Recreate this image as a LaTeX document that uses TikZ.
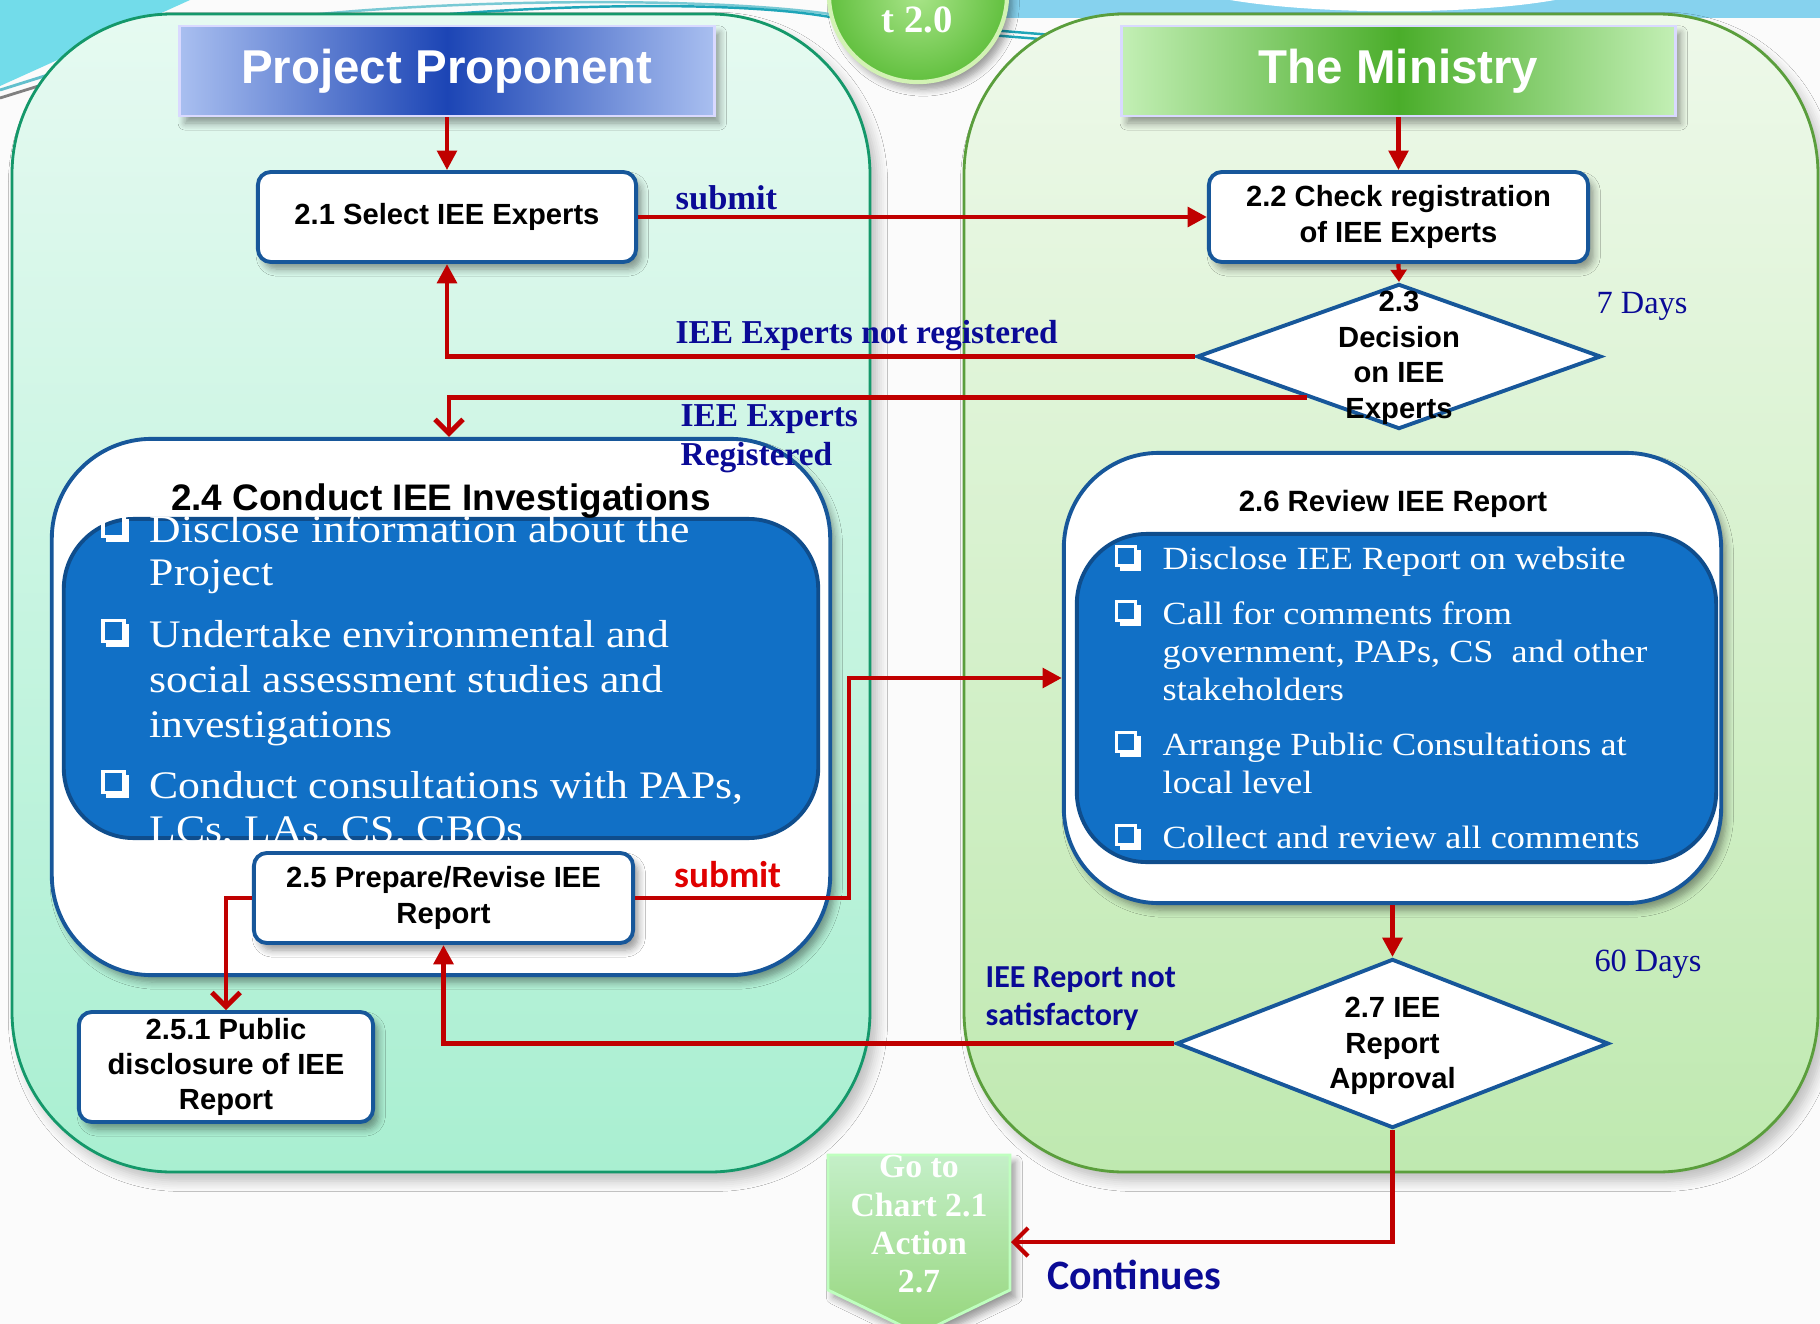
\documentclass[tikz,border=0pt]{standalone}
\usepackage{fontspec}
\usetikzlibrary{arrows.meta,shapes.geometric,shadows.blur,calc}
\setmainfont{Liberation Serif}
\newfontfamily\hsans{Liberation Sans}
\newfontfamily\hserif{Liberation Serif}
\newfontfamily\hserifw[FakeStretch=1.12]{Liberation Serif}
\newfontfamily\hcarl{Carlito}
\newcommand\fsz[2]{\fontsize{#1pt}{#2pt}\selectfont}
\definecolor{bgcol}{HTML}{FBFBFB}
\definecolor{arrred}{HTML}{C00000}
\definecolor{boxblue}{HTML}{17579A}
\definecolor{innerblue}{HTML}{1170C6}
\definecolor{innerline}{HTML}{0F4D8C}
\definecolor{navy}{HTML}{0A0A96}
\definecolor{redtxt}{HTML}{E00000}
\definecolor{lpanelT}{HTML}{E6FAF1}
\definecolor{lpanelB}{HTML}{A9EFD1}
\definecolor{lpanelD}{HTML}{14986A}
\definecolor{rpanelT}{HTML}{EEF9EA}
\definecolor{rpanelB}{HTML}{BFE9B0}
\definecolor{rpanelD}{HTML}{5A9E3C}
\definecolor{hbL}{HTML}{A9BFF0}
\definecolor{hbM}{HTML}{1C45B5}
\definecolor{hgL}{HTML}{C3EFB5}
\definecolor{hgM}{HTML}{4AAD2A}
\definecolor{cyanbg}{HTML}{72DCEA}
\definecolor{tealline}{HTML}{1FA5B8}
\definecolor{lightblue}{HTML}{86D2EE}
\definecolor{circIn}{HTML}{A8E488}
\definecolor{circOut}{HTML}{62C03F}
\definecolor{circEdge}{HTML}{D2F2B4}
\definecolor{chevT}{HTML}{C4EFC8}
\definecolor{chevB}{HTML}{96D67C}
\newcommand\bsq[3]{%
  \draw[white, line width=0.9pt] ({#1-#3/2},{#2-#3/2}) rectangle ({#1+#3/2},{#2+#3/2});
  \draw[white, line width=1.5pt] ({#1-#3/2+3},{#2+#3/2+2.5}) -- ({#1+#3/2+2.5},{#2+#3/2+2.5}) -- ({#1+#3/2+2.5},{#2-#3/2+3});
}
\tikzset{
  sh/.style={blur shadow={shadow xshift=1.5pt,shadow yshift=-2pt,shadow opacity=40,shadow blur radius=2pt,shadow blur steps=6}},
  panel/.style={line width=0.8pt, rounded corners=1.6cm, blur shadow={shadow xshift=2pt,shadow yshift=-2.5pt,shadow opacity=25,shadow blur radius=3pt,shadow blur steps=6}},
  hdr/.style={draw=white!85!blue, line width=0.8pt, text=white, font=\hsans\bfseries\fsz{13.5}{15}, inner sep=0pt, sh},
  wbox/.style={draw=boxblue, line width=1.1pt, fill=white, rounded corners=0.13cm, inner sep=0pt, align=center, font=\hsans\bfseries\fsz{8.3}{10}, sh},
  bigbox/.style={draw=boxblue, line width=1.1pt, fill=white, inner sep=0pt, sh},
  innerbox/.style={draw=innerline, line width=1.1pt, fill=innerblue, inner sep=0pt},
  dia/.style={diamond, draw=boxblue, line width=1.1pt, fill=white, inner sep=0pt},
  diatxt/.style={font=\hsans\bfseries\fsz{8.3}{10.1}, align=center, inner sep=0pt},
  bullA/.style={font=\hserifw\fsz{11.1}{12}, text=white, inner sep=0pt, anchor=base west},
  bullB/.style={font=\hserifw\fsz{9.2}{10}, text=white, inner sep=0pt, anchor=base west},
  lbl/.style={font=\hserif\bfseries\fsz{9.5}{10}, text=navy, inner sep=0pt, anchor=base west},
  days/.style={font=\hserif\fsz{9.2}{10}, text=navy, inner sep=0pt, anchor=base},
  chevtxt/.style={font=\hserif\bfseries\fsz{9.6}{11}, text=white, inner sep=0pt, anchor=base},
  arr/.style={draw=arrred, line width=1.4pt, -{Triangle[length=5.5pt,width=5.5pt]}},
  sarr/.style={draw=arrred, line width=1.2pt, -{Triangle[length=3.5pt,width=4.5pt]}},
  varr/.style={draw=arrred, line width=1.4pt, -{Straight Barb[length=4pt,width=8pt]}},
}
\begin{document}
\begin{tikzpicture}[x=0.01cm,y=-0.01cm]
\useasboundingbox (0,0) rectangle (1820,1324);
\clip (0,0) rectangle (1820,1324);
\fill[bgcol] (0,0) rectangle (1820,1324);
% decorations
\fill[cyanbg] (0,0) -- (190,0) -- (0,86) -- cycle;
\draw[tealline!70, line width=0.8pt] (0,90) -- (70,68);
\draw[gray, line width=0.8pt] (0,98) -- (45,84);
\fill[lightblue] (1000,0) rectangle (1820,18);
\fill[white] (1230,0) .. controls (1320,15) and (1470,15) .. (1555,0) -- cycle;
\draw[tealline!60, line width=0.7pt] (300,16) .. controls (450,0) and (700,-4) .. (830,14);
\draw[tealline, line width=0.7pt] (450,14) .. controls (600,3) and (750,3) .. (830,17);
\draw[tealline, line width=0.7pt] (990,30) -- (1090,38);
\draw[tealline, line width=0.7pt] (990,35) -- (1090,43);
% panels
\path[panel, draw=lpanelD, top color=lpanelT, bottom color=lpanelB] (12,14) rectangle (870,1172);
\path[panel, draw=rpanelD, top color=rpanelT, bottom color=rpanelB] (964,14) rectangle (1818,1172);
% top circle
\path[draw=circEdge, line width=1.2pt, inner color=circIn, outer color=circOut, sh] (918,-5) ellipse [x radius=0.89cm, y radius=0.87cm];
\node[font=\hserif\bfseries\fsz{11}{12}, text=white, anchor=base, inner sep=0pt] (chart) at (917,32) {t 2.0};
% headers
\node[hdr, minimum width=5.34cm, minimum height=0.9cm, left color=hbL, right color=hbL, middle color=hbM] (pp) at (447,71) {Project Proponent};
\node[hdr, minimum width=5.53cm, minimum height=0.9cm, left color=hgL, right color=hgL, middle color=hgM] (tm) at (1398.5,71) {The Ministry};
% boxes
\node[wbox, minimum width=3.78cm, minimum height=0.9cm] (b21) at (447,217) {2.1 Select IEE Experts};
\node[wbox, minimum width=3.79cm, minimum height=0.9cm] (b22) at (1398.5,217) {2.2 Check registration\\of IEE Experts};
\node[dia, minimum width=4.04cm, minimum height=1.45cm] (d23) at (1399,356.5) {};
\node[diatxt] (d23t) at (1399,358) {2.3\\Decision\\on IEE\\Experts};
\node[bigbox, minimum width=7.78cm, minimum height=5.36cm, rounded corners=1cm] (b24) at (441,707) {};
\node[innerbox, minimum width=7.54cm, minimum height=3.19cm, rounded corners=0.7cm] (b24i) at (441,678.5) {};
\node[font=\hsans\bfseries\fsz{10.5}{12}, inner sep=0pt, anchor=base] (t24) at (441,510) {2.4 Conduct IEE Investigations};
\bsq{113.5}{526}{21}
\bsq{113.5}{631}{21}
\bsq{113.5}{782}{21}
\node[bullA] (a1) at (149,542) {Disclose information about the};
\node[bullA] (a2) at (149,585) {Project};
\node[bullA] (a3) at (149,647) {Undertake environmental and};
\node[bullA] (a4) at (149,692) {social assessment studies and};
\node[bullA] (a5) at (149,737) {investigations};
\node[bullA] (a6) at (149,798) {Conduct consultations with PAPs,};
\node[bullA] (a7) at (149,842) {LCs, LAs, CS, CBOs};
\node[wbox, minimum width=3.79cm, minimum height=0.9cm] (b25) at (443.5,898) {2.5 Prepare/Revise IEE\\Report};
\node[wbox, minimum width=2.94cm, minimum height=1.1cm] (b251) at (226,1067) {2.5.1 Public\\disclosure of IEE\\Report};
\node[bigbox, minimum width=6.57cm, minimum height=4.5cm, rounded corners=0.95cm] (b26) at (1392.5,678) {};
\node[innerbox, minimum width=6.39cm, minimum height=3.28cm, rounded corners=0.7cm] (b26i) at (1396.5,698) {};
\node[font=\hsans\bfseries\fsz{8.35}{10}, inner sep=0pt, anchor=base] (t26) at (1393,511) {2.6 Review IEE Report};
\bsq{1126}{556}{19}
\bsq{1126}{611}{19}
\bsq{1126}{742}{19}
\bsq{1126}{835}{19}
\node[bullB] (c1) at (1162,569) {Disclose IEE Report on website};
\node[bullB] (c2) at (1162,624) {Call for comments from};
\node[bullB] (c3) at (1162,662) {government, PAPs, CS\ \ and other};
\node[bullB] (c4) at (1162,700) {stakeholders};
\node[bullB] (c5) at (1162,755) {Arrange Public Consultations at};
\node[bullB] (c6) at (1162,793) {local level};
\node[bullB] (c7) at (1162,848) {Collect and review all comments};
\node[dia, minimum width=4.32cm, minimum height=1.69cm] (d27) at (1392.5,1043.5) {};
\node[diatxt] (d27t) at (1392.5,1046) {2.7 IEE\\Report\\Approval};
% chevron
\path[draw=white!75!green, line width=0.8pt, top color=chevT, bottom color=chevB, sh] (828,1155) -- (1010,1155) -- (1010,1290) -- (919,1334) -- (828,1290) -- cycle;
\node[chevtxt] (g1) at (919,1177) {Go to};
\node[chevtxt] (g2) at (919,1216) {Chart 2.1};
\node[chevtxt] (g3) at (919,1254) {Action};
\node[chevtxt] (g4) at (919,1292) {2.7};
\coordinate (chevin) at (1011,1242);
% connectors
\draw[arr, line width=1.2pt] (pp.south) -- (b21.north);
\draw[arr, line width=1.2pt] (tm.south) -- (b22.north);
\draw[arr] (b21.east) -- (b22.west);
\draw[sarr] (b22.south) -- (d23.north);
\draw[arr] (d23.west) -| (b21.south);
\coordinate (d23r) at ($(d23.west)!0.55!(d23.south)$);
\coordinate (b24in) at ($(b24.north)+(8,0)$);
\draw[varr] (d23r) -| (b24in);
\coordinate (j1) at (849,678);
\draw[arr] (b25.east) -| (j1) -- (b26.west);
\draw[varr] (b25.west) -| (b251.north);
\draw[arr] (b26.south) -- (d27.north);
\draw[arr] (d27.west) -| (b25.south);
\draw[varr, line width=1.2pt] (d27.south) |- (chevin);
% labels
\node[lbl, font=\hserif\bfseries\fsz{9.8}{10}] (l1) at (675,209) {submit};
\node[lbl] (l2) at (675,343) {IEE Experts not registered};
\node[lbl] (l3) at (680,426) {IEE Experts};
\node[lbl] (l4) at (680,465) {Registered};
\node[days] (l5) at (1642,313) {7 Days};
\node[days] (l6) at (1648,971) {60 Days};
\node[font=\hcarl\bfseries\fsz{10.6}{12}, text=redtxt, inner sep=0pt, anchor=base] (l7) at (728,887) {submit};
\node[font=\hcarl\bfseries\fsz{9.1}{11}, text=navy, inner sep=0pt, anchor=base west] (l8) at (985,987) {IEE Report not};
\node[font=\hcarl\bfseries\fsz{9.1}{11}, text=navy, inner sep=0pt, anchor=base west] (l9) at (985,1025) {satisfactory};
\node[font=\hcarl\bfseries\fsz{11.9}{13}, text=navy, inner sep=0pt, anchor=base] (l10) at (1134,1289) {Continues};
\end{tikzpicture}
\end{document}
